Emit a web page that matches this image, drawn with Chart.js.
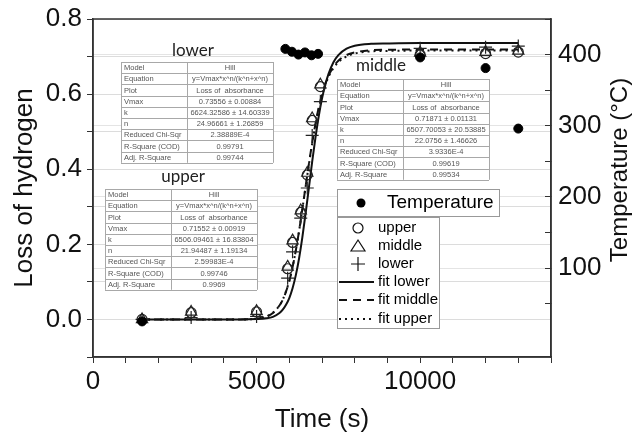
<!DOCTYPE html>
<html>
<head>
<meta charset="utf-8">
<script src="https://cdn.jsdelivr.net/npm/chart.js@4.4.1/dist/chart.umd.min.js"></script>
<style>
  html, body { margin: 0; padding: 0; background: #fff; }
</style>
</head>
<body>
<canvas id="chart" width="635" height="437"></canvas>
<script>
// DATA
const fitTime = [1500, 3000, 4500, 5000, 5300, 5500, 5700, 5800, 5900, 6000, 6100, 6200, 6300, 6400, 6500, 6600,
                 6700, 6800, 6900, 7000, 7100, 7200, 7350, 7500, 7750, 8000, 8500, 9000, 10000, 11000, 12000, 13000];
const fitLower = [0, 0, 0, 0.001, 0.003, 0.007, 0.017, 0.026, 0.039, 0.057, 0.083, 0.118, 0.163, 0.219, 0.283, 0.351,
                  0.420, 0.484, 0.541, 0.588, 0.625, 0.654, 0.685, 0.704, 0.721, 0.729, 0.734, 0.735, 0.736, 0.736, 0.736, 0.736];
const fitMiddle = [0, 0, 0, 0.002, 0.008, 0.017, 0.037, 0.052, 0.074, 0.102, 0.139, 0.184, 0.236, 0.294, 0.355, 0.414,
                   0.471, 0.521, 0.564, 0.599, 0.627, 0.649, 0.673, 0.689, 0.704, 0.711, 0.717, 0.718, 0.719, 0.719, 0.719, 0.719];
const fitUpper = [0, 0, 0, 0.002, 0.008, 0.018, 0.037, 0.053, 0.075, 0.103, 0.140, 0.184, 0.236, 0.294, 0.354, 0.413,
                  0.469, 0.519, 0.561, 0.596, 0.624, 0.646, 0.669, 0.685, 0.700, 0.708, 0.714, 0.715, 0.716, 0.716, 0.716, 0.716];

const sampleTime = [1500, 3000, 5000, 5950, 6100, 6350, 6550, 6700, 6950, 10000, 12000, 13000];
const upperLoss  = [0.000, 0.018, 0.020, 0.135, 0.205, 0.285, 0.385, 0.530, 0.620, 0.705, 0.708, 0.712];
const middleLoss = [0.000, 0.020, 0.022, 0.140, 0.210, 0.290, 0.390, 0.535, 0.625, 0.710, 0.712, 0.715];
const lowerLoss  = [0.000, 0.005, 0.008, 0.110, 0.180, 0.270, 0.350, 0.490, 0.580, 0.722, 0.725, 0.728];

const tempTime = [1500, 5880, 6080, 6280, 6480, 6680, 6880, 10000, 12000, 13000];
const temperature = [25, 408, 404, 400, 403, 399, 401, 396, 381, 296];

const xTickLabels = [0, 5000, 10000];
const yTickLabels = [0.0, 0.2, 0.4, 0.6, 0.8];
const y2TickLabels = [0, 100, 200, 300, 400];

// fit report tables
const paramNames = ['Model', 'Equation', 'Plot', 'Vmax', 'k', 'n', 'Reduced Chi-Sqr', 'R-Square (COD)', 'Adj. R-Square'];
const lowerParams = ['Hill', 'y=Vmax*x^n/(k^n+x^n)', 'Loss of  absorbance', '0.73556 \u00b1 0.00884', '6624.32586 \u00b1 14.60339',
                     '24.96661 \u00b1 1.26859', '2.38889E-4', '0.99791', '0.99744'];
const middleParams = ['Hill', 'y=Vmax*x^n/(k^n+x^n)', 'Loss of  absorbance', '0.71871 \u00b1 0.01131', '6507.70053 \u00b1 20.53885',
                      '22.0756 \u00b1 1.46626', '3.9336E-4', '0.99619', '0.99534'];
const upperParams = ['Hill', 'y=Vmax*x^n/(k^n+x^n)', 'Loss of  absorbance', '0.71552 \u00b1 0.00919', '6506.09461 \u00b1 16.83804',
                     '21.94487 \u00b1 1.19134', '2.59983E-4', '0.99746', '0.9969'];

const FONT = "'Liberation Sans', Arial, sans-serif";
const pts = (xs, ys) => xs.map((x, i) => ({ x: x, y: ys[i] }));
const isLabel = (list, v) => list.some(t => Math.abs(t - v) < 1e-6);

// TABLES, LEGEND, FRAME
const drawTable = (ctx, title, tx, ty, x, y, values) => {
    const w = 152, colW = 66, rowH = 11.2;
    ctx.save();
    ctx.fillStyle = '#222';
    ctx.font = "17px Lato, 'Open Sans', sans-serif";
    ctx.textAlign = 'center';
    ctx.textBaseline = 'middle';
    ctx.fillText(title, tx, ty);

    ctx.fillStyle = '#fff';
    ctx.fillRect(x, y, w, rowH * paramNames.length);
    ctx.strokeStyle = '#a8a8a8';
    ctx.lineWidth = 1;
    ctx.beginPath();
    for (let i = 0; i <= paramNames.length; i++) {
        ctx.moveTo(x, Math.round(y + i * rowH) + 0.5);
        ctx.lineTo(x + w, Math.round(y + i * rowH) + 0.5);
    }
    [x, x + colW, x + w].forEach(vx => {
        ctx.moveTo(Math.round(vx) + 0.5, y);
        ctx.lineTo(Math.round(vx) + 0.5, y + rowH * paramNames.length);
    });
    ctx.stroke();

    ctx.fillStyle = '#555';
    ctx.font = '7.5px ' + FONT;
    paramNames.forEach((name, i) => {
        const cy = y + (i + 0.5) * rowH + 0.5;
        ctx.textAlign = 'left';
        ctx.fillText(name, x + 3, cy);
        ctx.textAlign = 'center';
        ctx.fillText(values[i], x + colW + (w - colW) / 2, cy);
    });
    ctx.restore();
};

const drawLegend = (ctx) => {
    ctx.save();
    ctx.strokeStyle = '#999';
    ctx.lineWidth = 1;
    ctx.fillStyle = '#fff';
    ctx.fillRect(337, 189, 162, 27);
    ctx.strokeRect(337.5, 189.5, 162, 27);
    ctx.fillRect(337, 217, 102, 111);
    ctx.strokeRect(337.5, 217.5, 102, 111);

    ctx.fillStyle = '#000';
    ctx.beginPath();
    ctx.arc(361, 203, 4.5, 0, Math.PI * 2);
    ctx.fill();
    ctx.font = '19px ' + FONT;
    ctx.textAlign = 'left';
    ctx.textBaseline = 'middle';
    ctx.fillText('Temperature', 387, 203);

    const rows = [228, 246, 264, 282, 300, 319];
    const names = ['upper', 'middle', 'lower', 'fit lower', 'fit middle', 'fit upper'];
    ctx.font = '15px ' + FONT;
    ctx.strokeStyle = '#111';
    names.forEach((n, i) => ctx.fillText(n, 378, rows[i]));

    ctx.lineWidth = 1.2;
    ctx.beginPath();
    ctx.arc(358, rows[0], 5, 0, Math.PI * 2);
    ctx.stroke();
    ctx.beginPath();
    ctx.moveTo(358, rows[1] - 6);
    ctx.lineTo(365, rows[1] + 5);
    ctx.lineTo(351, rows[1] + 5);
    ctx.closePath();
    ctx.stroke();
    ctx.beginPath();
    ctx.moveTo(351, rows[2]); ctx.lineTo(365, rows[2]);
    ctx.moveTo(358, rows[2] - 7); ctx.lineTo(358, rows[2] + 7);
    ctx.stroke();

    ctx.lineWidth = 2;
    [[], [8, 6], [2, 4]].forEach((dash, i) => {
        ctx.setLineDash(dash);
        ctx.beginPath();
        ctx.moveTo(339, rows[3 + i]);
        ctx.lineTo(374, rows[3 + i]);
        ctx.stroke();
    });
    ctx.restore();
};

const extras = {
    id: 'extras',
    beforeDatasetsDraw(chart) {
        const ctx = chart.ctx;
        drawTable(ctx, 'lower', 193, 51, 121, 62, lowerParams);
        drawTable(ctx, 'middle', 381, 66, 337, 79, middleParams);
        drawTable(ctx, 'upper', 183, 177, 105, 189, upperParams);
        drawLegend(ctx);
    },
    afterDraw(chart) {
        const ctx = chart.ctx;
        const a = chart.chartArea;
        ctx.save();
        ctx.strokeStyle = '#333';
        ctx.lineWidth = 1.5;
        ctx.strokeRect(a.left, a.top, a.right - a.left, a.bottom - a.top);
        ctx.translate(620, 170);
        ctx.rotate(-Math.PI / 2);
        ctx.fillStyle = '#111';
        ctx.font = '24px ' + FONT;
        ctx.textAlign = 'center';
        ctx.textBaseline = 'middle';
        ctx.fillText('Temperature (\u00b0C)', 0, 0);
        ctx.restore();
    }
};

// CHART
const fitLine = (label, data, dash) => ({
    type: 'line', label: label, data: pts(fitTime, data), yAxisID: 'y',
    borderColor: '#111', borderWidth: 2, borderDash: dash, pointRadius: 0,
    fill: false, cubicInterpolationMode: 'monotone'
});
const marker = (label, data, style, radius) => ({
    label: label, data: pts(sampleTime, data), yAxisID: 'y',
    pointStyle: style, pointRadius: radius, borderColor: '#222', borderWidth: 1.2,
    backgroundColor: 'rgba(0,0,0,0)', showLine: false
});

const ctx = document.getElementById('chart');
new Chart(ctx, {
    type: 'scatter',
    data: {
        datasets: [
            { label: 'Temperature', data: pts(tempTime, temperature), yAxisID: 'y2',
              pointStyle: 'circle', pointRadius: 4.5, backgroundColor: '#000', borderColor: '#000', showLine: false },
            marker('lower', lowerLoss, 'cross', 6.5),
            marker('middle', middleLoss, 'triangle', 6.5),
            marker('upper', upperLoss, 'circle', 5),
            fitLine('fit lower', fitLower, []),
            fitLine('fit middle', fitMiddle, [8, 6]),
            fitLine('fit upper', fitUpper, [2, 4])
        ]
    },
    options: {
        responsive: false,
        animation: false,
        devicePixelRatio: 1,
        layout: { padding: { top: 19, left: 0, right: 0, bottom: 0 } },
        plugins: { legend: { display: false }, tooltip: { enabled: false } },
        scales: {
            x: {
                type: 'linear', min: 0, max: 14000,
                afterFit: s => { s.height = 80; s.paddingLeft = 0; s.paddingRight = 0; },
                border: { display: true, color: '#333', width: 1.5 },
                grid: { drawOnChartArea: false, tickLength: 6, tickColor: '#333' },
                ticks: {
                    stepSize: 1000, autoSkip: false, maxRotation: 0, padding: 3,
                    color: '#111', font: { family: FONT, size: 26 },
                    callback: v => isLabel(xTickLabels, v) ? String(v) : ''
                },
                title: { display: true, text: 'Time (s)', color: '#111',
                         font: { family: FONT, size: 26 }, padding: { top: 0, bottom: 2 } }
            },
            y: {
                type: 'linear', position: 'left', min: -0.1, max: 0.8,
                afterFit: s => { s.width = 93; s.paddingTop = 0; s.paddingBottom = 0; },
                border: { display: true, color: '#333', width: 1.5 },
                grid: { color: '#dcdcdc', tickLength: 6, tickColor: '#333' },
                ticks: {
                    stepSize: 0.1, autoSkip: false, padding: 5,
                    color: '#111', font: { family: FONT, size: 26 },
                    callback: v => isLabel(yTickLabels, v) ? v.toFixed(1) : ''
                },
                title: { display: true, text: 'Loss of hydrogen', color: '#111',
                         font: { family: FONT, size: 26 }, padding: { top: 9, bottom: 0 } }
            },
            y2: {
                type: 'linear', position: 'right', min: -25, max: 450,
                afterFit: s => { s.width = 84; s.paddingTop = 0; s.paddingBottom = 0; },
                border: { display: true, color: '#333', width: 1.5 },
                grid: {
                    drawOnChartArea: true, tickLength: -6,
                    color: c => (c.tick && c.tick.value % 100 === 0) ? '#e4e4e4' : 'rgba(0,0,0,0)',
                    tickColor: c => (c.tick && c.tick.value % 50 === 0) ? '#333' : 'rgba(0,0,0,0)'
                },
                ticks: {
                    stepSize: 50, autoSkip: false, padding: 13,
                    color: '#111', font: { family: FONT, size: 26 },
                    callback: v => isLabel(y2TickLabels, v) ? String(v) : ''
                }
            }
        }
    },
    plugins: [extras]
});
</script>
</body>
</html>
